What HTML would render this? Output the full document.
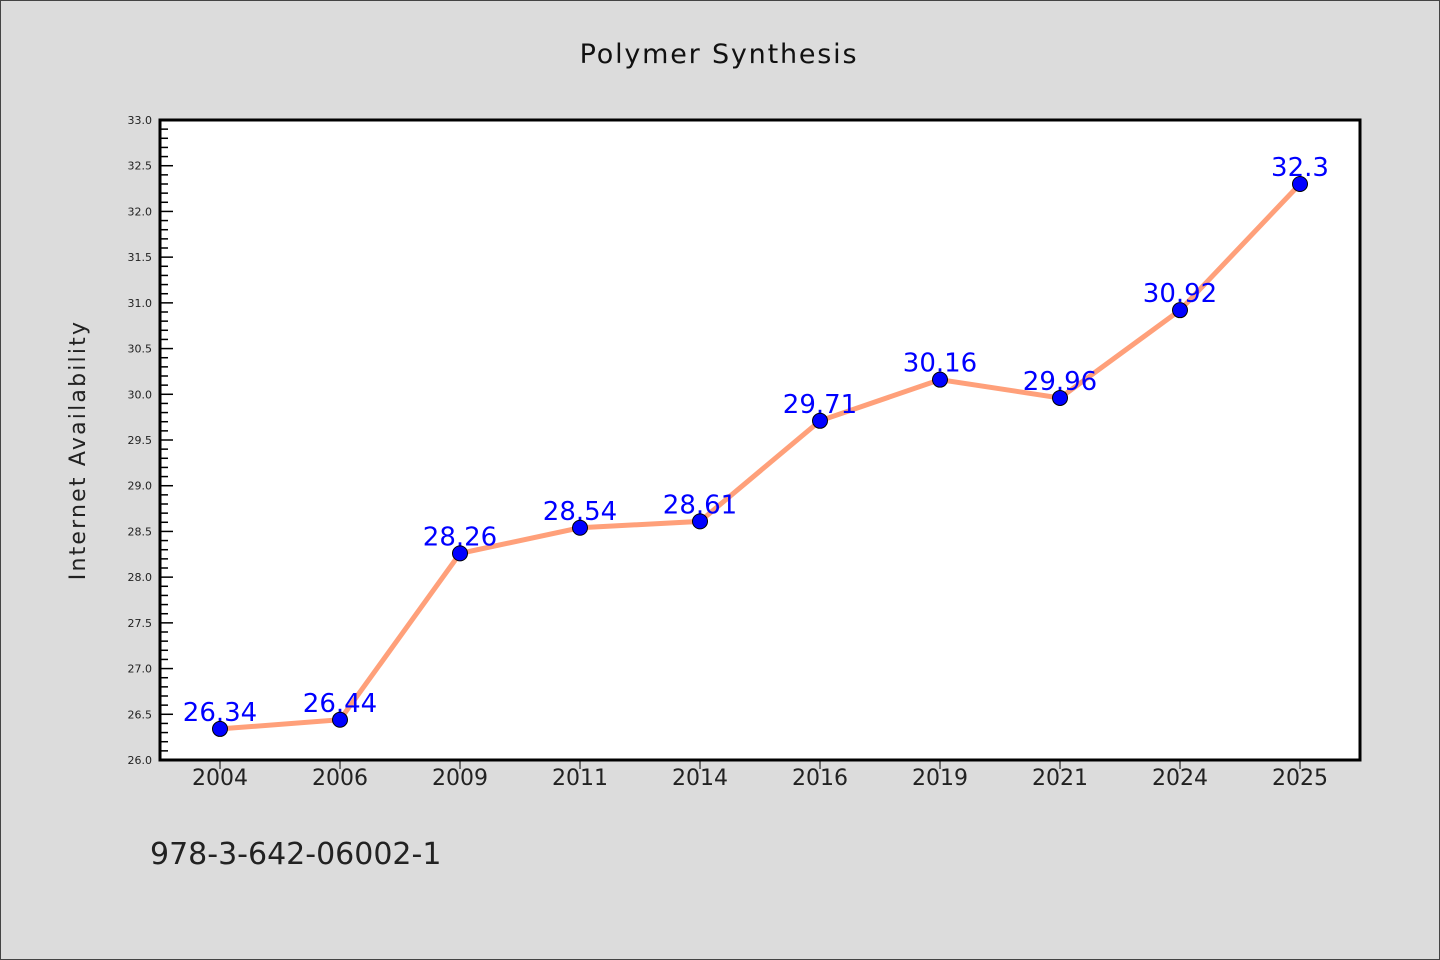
<!DOCTYPE html>
<html><head><meta charset="utf-8"><style>
body{margin:0;background:#dcdcdc;}
svg{display:block;font-family:"DejaVu Sans","Liberation Sans",sans-serif;}
</style></head><body>
<svg width="1440" height="960" viewBox="0 0 1440 960">
<rect x="0.5" y="0.5" width="1439" height="959" fill="#dcdcdc" stroke="#444" stroke-width="1"/>
<text x="719" y="63" text-anchor="middle" font-size="27" letter-spacing="1.8" fill="#111">Polymer Synthesis</text>
<text transform="translate(85,450) rotate(-90)" text-anchor="middle" font-size="22" letter-spacing="2.2" fill="#222">Internet Availability</text>
<text x="150" y="864" font-size="30" fill="#222">978-3-642-06002-1</text>
<rect x="160" y="120" width="1200" height="640" fill="#fff"/>
<g id="ticks"></g>
<g id="marks"></g>
<rect x="160" y="120" width="1200" height="640" fill="none" stroke="#000" stroke-width="3"/>
</svg>
<script>
const categories=["2004","2006","2009","2011","2014","2016","2019","2021","2024","2025"];
const values=[26.34,26.44,28.26,28.54,28.61,29.71,30.16,29.96,30.92,32.3];
const labels=["26.34","26.44","28.26","28.54","28.61","29.71","30.16","29.96","30.92","32.3"];
const yMin=26,yMax=33;
const L=160,R=1360,T=120,B=760;
const NS="http://www.w3.org/2000/svg";
const xs=i=>L+(R-L)/categories.length*(i+0.5);
const ys=v=>B-(v-yMin)/(yMax-yMin)*(B-T);
function mk(t,a,p){const e=document.createElementNS(NS,t);for(const k in a)e.setAttribute(k,a[k]);p.appendChild(e);return e;}
const tk=document.getElementById('ticks'),mg=document.getElementById('marks');
for(let k=0;k<=70;k++){const v=yMin+k*0.1;const y=ys(v);const major=k%5===0;
const l=mk('line',{x1:L,x2:L+(major?13:8),y1:y,y2:y,stroke:'#000','stroke-width':1.5},tk);


if(major){const t=mk('text',{x:L-8,y:y+4,'text-anchor':'end','font-size':11,fill:'#222'},tk);t.textContent=v.toFixed(1);

}}
categories.forEach((c,i)=>{const x=xs(i);
const l=mk('line',{x1:x,x2:x,y1:B,y2:B+9,stroke:'#000','stroke-width':1},tk);


const t=mk('text',{x:x,y:B+25,'text-anchor':'middle','font-size':22,fill:'#222'},tk);t.textContent=c;

});
const pl=mk('polyline',{points:values.map((v,i)=>xs(i)+','+ys(v)).join(' '),fill:'none',stroke:'#ffa07a','stroke-width':5},mg);


values.forEach((v,i)=>{const t=mk('text',{x:xs(i),y:ys(v)-8,'text-anchor':'middle','font-size':26,fill:'#0000ff'},mg);t.textContent=labels[i];

});
values.forEach((v,i)=>{const c=mk('circle',{cx:xs(i),cy:ys(v),r:7.5,fill:'#0000ff',stroke:'#000','stroke-width':1},mg);

});
</script>
</body></html>
